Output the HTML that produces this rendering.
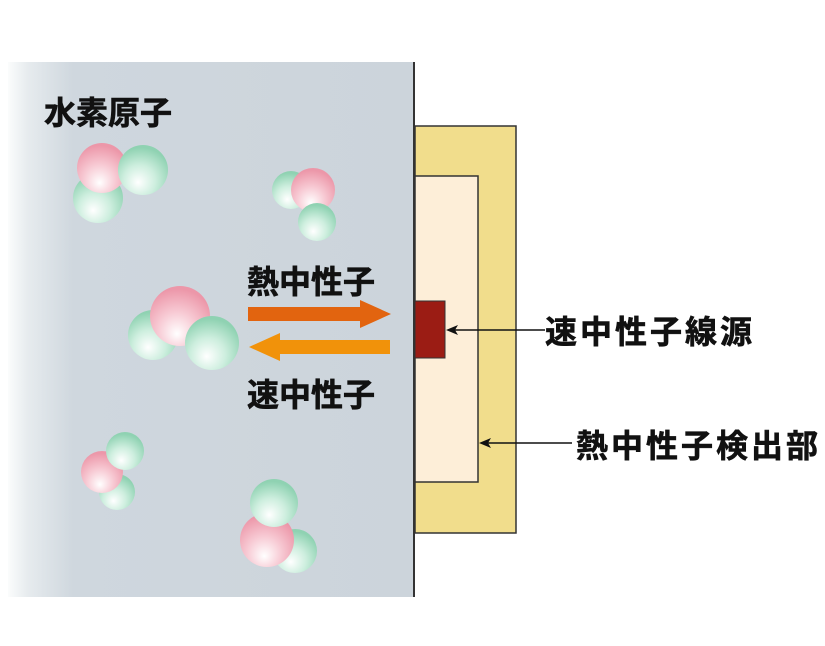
<!DOCTYPE html>
<html><head><meta charset="utf-8"><style>
body{margin:0;background:#fff;}
svg text{font-family:"Liberation Sans","Noto Sans CJK JP",sans-serif;font-weight:bold;fill:#111;stroke:#111;stroke-width:0.6;}
</style></head><body>
<svg width="825" height="641" viewBox="0 0 825 641" xmlns="http://www.w3.org/2000/svg">
<defs>
<linearGradient id="bg" x1="0" x2="1" y1="0" y2="0">
<stop offset="0" stop-color="#fbfcfc"/><stop offset="0.05" stop-color="#e6ebee"/><stop offset="0.16" stop-color="#cfd7de"/><stop offset="1" stop-color="#ccd4db"/>
</linearGradient>
<radialGradient id="g" cx="0.45" cy="0.7" r="0.65" fx="0.4" fy="0.75">
<stop offset="0" stop-color="#ffffff"/><stop offset="0.5" stop-color="#cdeede"/><stop offset="1" stop-color="#8fd2b2"/>
</radialGradient>
<radialGradient id="p" cx="0.45" cy="0.7" r="0.65" fx="0.45" fy="0.8">
<stop offset="0" stop-color="#ffffff"/><stop offset="0.5" stop-color="#f7c9d3"/><stop offset="1" stop-color="#ec97a9"/>
</radialGradient>
</defs>
<rect x="8" y="62" width="406" height="535" fill="url(#bg)"/>
<line x1="414" y1="62" x2="414" y2="597" stroke="#333" stroke-width="2"/>
<rect x="415" y="126" width="101" height="407" fill="#f1dd8c" stroke="#333" stroke-width="1.5"/>
<rect x="415" y="176" width="63" height="306" fill="#fdeed8" stroke="#333" stroke-width="1.5"/>
<rect x="415" y="301" width="30" height="57" fill="#9b1c14" stroke="#333" stroke-width="1"/>
<line x1="545" y1="330" x2="450" y2="330" stroke="#111" stroke-width="1.5"/>
<path d="M446 330 L458 325 L455 330 L458 335 Z" fill="#111"/>
<line x1="572" y1="443" x2="483" y2="443" stroke="#111" stroke-width="1.5"/>
<path d="M479 443 L491 438 L488 443 L491 448 Z" fill="#111"/>
<text x="44" y="124" font-size="32">水素原子</text>
<text x="247" y="293" font-size="32">熱中性子</text>
<text x="247" y="406" font-size="32">速中性子</text>
<text x="545" y="343" font-size="32" letter-spacing="3">速中性子線源</text>
<text x="576" y="457" font-size="32" letter-spacing="3">熱中性子検出部</text>
<path d="M248 307 H360 V300 L391 314 L360 328 V321 H248 Z" fill="#e2640f"/>
<path d="M390 340 H280 V333 L249 347 L280 361 V354 H390 Z" fill="#f1920a"/>
<circle cx="98" cy="198" r="25" fill="url(#g)"/>
<circle cx="102" cy="168" r="25" fill="url(#p)"/>
<circle cx="143" cy="170" r="25" fill="url(#g)"/>
<circle cx="291" cy="190" r="19" fill="url(#g)"/>
<circle cx="313" cy="190" r="22" fill="url(#p)"/>
<circle cx="317" cy="222" r="19" fill="url(#g)"/>
<circle cx="153" cy="335" r="25" fill="url(#g)"/>
<circle cx="180" cy="316" r="30" fill="url(#p)"/>
<circle cx="212" cy="343" r="27" fill="url(#g)"/>
<circle cx="117" cy="492" r="18" fill="url(#g)"/>
<circle cx="102" cy="472" r="21" fill="url(#p)"/>
<circle cx="125" cy="451" r="19" fill="url(#g)"/>
<circle cx="295" cy="551" r="22" fill="url(#g)"/>
<circle cx="267" cy="540" r="27" fill="url(#p)"/>
<circle cx="274" cy="503" r="24" fill="url(#g)"/>
</svg>
</body></html>
